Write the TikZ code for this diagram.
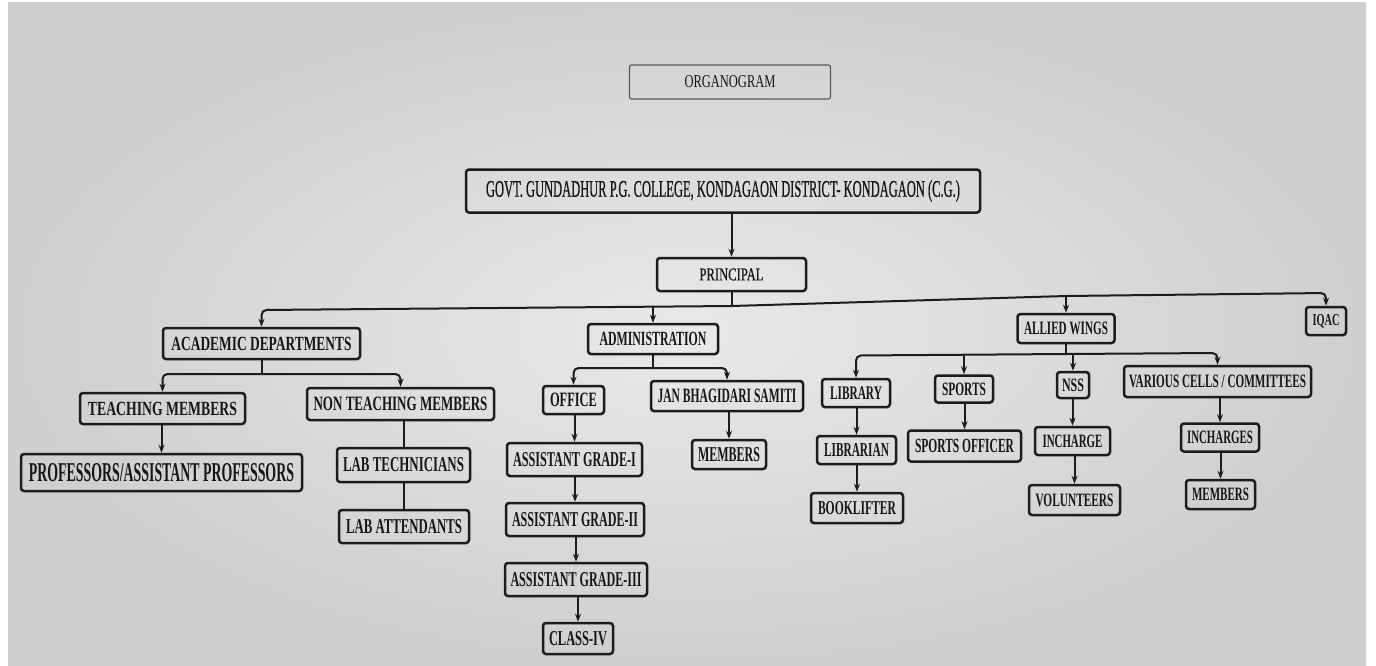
\documentclass[tikz,border=0pt]{standalone}
\usepackage{fontspec}
\setmainfont{Liberation Serif}
\newfontfamily\semib[FakeBold=0.8]{Liberation Serif}
\usepackage{graphicx}
\usetikzlibrary{arrows.meta}
\newdimen\pxu \pxu=0.5pt
\newcommand{\tx}[3]{\resizebox{#1\pxu}{#2\pxu}{#3}}
\definecolor{linec}{RGB}{28,28,30}
\definecolor{textc}{RGB}{22,22,24}
\definecolor{bgin}{RGB}{233,233,235}
\definecolor{bgout}{RGB}{207,207,209}
\tikzset{
  box/.style={draw=linec, line width=1.25pt, rounded corners=1.5pt, inner sep=0pt, text=textc, font=\bfseries},
  plainbox/.style={box, font=\semib},
  titlebox/.style={draw=black!65, line width=0.6pt, rounded corners=1pt, inner sep=0pt, text=textc, font=\mdseries},
  conn/.style={draw=linec, line width=1pt},
  arr/.style={conn, -{Stealth[length=4pt,width=3pt]}}
}
\begin{document}
\begin{tikzpicture}[x=0.5pt,y=-0.5pt]
\useasboundingbox (0,0) rectangle (1376,665);
\fill[white] (0,0) rectangle (1376,665);
\shade[inner color=bgin, outer color=bgout] (8,2) rectangle (1366,665);

% top
\node[titlebox, minimum width=201\pxu, minimum height=34\pxu] (title) at (730,82) {\tx{91}{12}{ORGANOGRAM}};
\node[plainbox, minimum width=514\pxu, minimum height=43\pxu] (govt) at (723,191) {\tx{474}{16.5}{GOVT. GUNDADHUR P.G. COLLEGE, KONDAGAON DISTRICT- KONDAGAON (C.G.)}};
\node[plainbox, minimum width=149\pxu, minimum height=33\pxu] (principal) at (731.5,274.5) {\tx{64}{12}{PRINCIPAL}};

% level 1
\node[box, minimum width=197\pxu, minimum height=31\pxu] (acad) at (261.5,343.5) {\tx{180}{13.3}{ACADEMIC DEPARTMENTS}};
\node[box, minimum width=130\pxu, minimum height=30\pxu] (admin) at (653,339) {\tx{107}{13.3}{ADMINISTRATION}};
\node[box, minimum width=97\pxu, minimum height=29\pxu] (wings) at (1066,328.5) {\tx{84}{12.5}{ALLIED WINGS}};
\node[box, minimum width=40\pxu, minimum height=28\pxu] (iqac) at (1326,321) {\tx{27}{11}{IQAC}};

% academic
\node[box, minimum width=165\pxu, minimum height=31\pxu] (teach) at (162.5,408.5) {\tx{149}{13.3}{TEACHING MEMBERS}};
\node[box, minimum width=187\pxu, minimum height=32\pxu] (nonteach) at (400.5,404) {\tx{174}{13.5}{NON TEACHING MEMBERS}};
\node[box, minimum width=281\pxu, minimum height=37\pxu] (prof) at (161.5,472.5) {\tx{265}{18}{PROFESSORS/ASSISTANT PROFESSORS}};
\node[box, minimum width=133\pxu, minimum height=34\pxu] (labtech) at (403.5,465) {\tx{121}{14}{LAB TECHNICIANS}};
\node[box, minimum width=130\pxu, minimum height=33\pxu] (labatt) at (404,526.5) {\tx{116}{14}{LAB ATTENDANTS}};

% administration
\node[box, minimum width=61\pxu, minimum height=28\pxu] (office) at (573.5,400) {\tx{47}{13.5}{OFFICE}};
\node[box, minimum width=152\pxu, minimum height=30\pxu] (jan) at (727,396) {\tx{139}{13.5}{JAN BHAGIDARI SAMITI}};
\node[box, minimum width=135\pxu, minimum height=33\pxu] (ag1) at (574.5,459.5) {\tx{123}{14}{ASSISTANT GRADE-I}};
\node[box, minimum width=138\pxu, minimum height=33\pxu] (ag2) at (575,519.5) {\tx{126}{14}{ASSISTANT GRADE-II}};
\node[box, minimum width=142\pxu, minimum height=33\pxu] (ag3) at (576,579.5) {\tx{131}{14}{ASSISTANT GRADE-III}};
\node[box, minimum width=70\pxu, minimum height=31\pxu] (class4) at (578,638.5) {\tx{58}{14}{CLASS-IV}};
\node[box, minimum width=74\pxu, minimum height=29\pxu] (members1) at (729,454.5) {\tx{62}{14}{MEMBERS}};

% allied wings
\node[box, minimum width=68\pxu, minimum height=28\pxu] (library) at (856,393) {\tx{52}{12.7}{LIBRARY}};
\node[box, minimum width=58\pxu, minimum height=27\pxu] (sports) at (964,389) {\tx{44}{12.5}{SPORTS}};
\node[box, minimum width=32\pxu, minimum height=26\pxu] (nss) at (1073,385) {\tx{22}{12.5}{NSS}};
\node[box, minimum width=187\pxu, minimum height=31\pxu] (various) at (1217.5,381.5) {\tx{177}{12.5}{VARIOUS CELLS / COMMITTEES}};
\node[box, minimum width=79\pxu, minimum height=28\pxu] (librarian) at (856.5,450) {\tx{65}{13}{LIBRARIAN}};
\node[box, minimum width=92\pxu, minimum height=30\pxu] (booklifter) at (857,508) {\tx{78}{13}{BOOKLIFTER}};
\node[box, minimum width=113\pxu, minimum height=31\pxu] (sportsoff) at (964.5,446) {\tx{99}{13.3}{SPORTS OFFICER}};
\node[box, minimum width=75\pxu, minimum height=28\pxu] (incharge) at (1072.5,441) {\tx{60}{12.5}{INCHARGE}};
\node[box, minimum width=91\pxu, minimum height=30\pxu] (volunteers) at (1074.5,500) {\tx{78}{12.5}{VOLUNTEERS}};
\node[box, minimum width=78\pxu, minimum height=28\pxu] (incharges) at (1220,437.5) {\tx{66}{12.5}{INCHARGES}};
\node[box, minimum width=69\pxu, minimum height=29\pxu] (members2) at (1220.5,494.5) {\tx{57}{12.5}{MEMBERS}};

% bus junctions
\coordinate (bL) at (261.5,310);
\coordinate (bA) at (653,307);
\coordinate (bP) at (731.5,306);
\coordinate (bW) at (1066,296);
\coordinate (bR) at (1326,293);
\coordinate (aJ) at (261.5,374);
\coordinate (aL) at (162.5,374);
\coordinate (aR) at (400.5,374);
\coordinate (dJ) at (653,368);
\coordinate (dL) at (573.5,368);
\coordinate (dR) at (727,368);
\coordinate (wJ) at (1066,354);
\coordinate (wL) at (856,355.5);
\coordinate (wS) at (964,355);
\coordinate (wN) at (1073,354);
\coordinate (wV) at (1217.5,353);

% top connectors
\draw[arr] (govt.south -| principal.north) -- (principal.north);
\draw[conn] (principal.south) -- (bP);
\draw[arr, rounded corners=2.5pt] (bP) -- (bL) -- (acad.north);
\draw[arr, rounded corners=2.5pt] (bP) -- (bW) -- (bR) -- (iqac.north);
\draw[arr] (bA) -- (admin.north);
\draw[arr] (bW) -- (wings.north);

% academic
\draw[conn] (acad.south) -- (aJ);
\draw[arr, rounded corners=2.5pt] (aJ) -- (aL) -- (teach.north);
\draw[arr, rounded corners=2.5pt] (aJ) -- (aR) -- (nonteach.north);
\draw[arr] (teach.south -| prof.north) -- (prof.north);
\draw[conn] (nonteach.south -| labtech.north) -- (labtech.north);
\draw[conn] (labtech.south -| labatt.north) -- (labatt.north);

% administration
\draw[conn] (admin.south) -- (dJ);
\draw[arr, rounded corners=2.5pt] (dJ) -- (dL) -- (office.north);
\draw[arr, rounded corners=2.5pt] (dJ) -- (dR) -- (jan.north);
\draw[arr] (office.south -| ag1.north) -- (ag1.north);
\draw[arr] (ag1.south -| ag2.north) -- (ag2.north);
\draw[arr] (ag2.south -| ag3.north) -- (ag3.north);
\draw[arr] (ag3.south -| class4.north) -- (class4.north);
\draw[arr] (jan.south -| members1.north) -- (members1.north);

% allied wings
\draw[conn] (wings.south) -- (wJ);
\draw[arr, rounded corners=2.5pt] (wJ) -- (wL) -- (library.north);
\draw[arr, rounded corners=2.5pt] (wJ) -- (wV) -- (various.north);
\draw[arr] (wS) -- (sports.north);
\draw[arr] (wN) -- (nss.north);
\draw[arr] (library.south -| librarian.north) -- (librarian.north);
\draw[arr] (librarian.south -| booklifter.north) -- (booklifter.north);
\draw[arr] (sports.south -| sportsoff.north) -- (sportsoff.north);
\draw[arr] (nss.south -| incharge.north) -- (incharge.north);
\draw[arr] (incharge.south -| volunteers.north) -- (volunteers.north);
\draw[arr] (various.south -| incharges.north) -- (incharges.north);
\draw[arr] (incharges.south -| members2.north) -- (members2.north);
\end{tikzpicture}
\end{document}
